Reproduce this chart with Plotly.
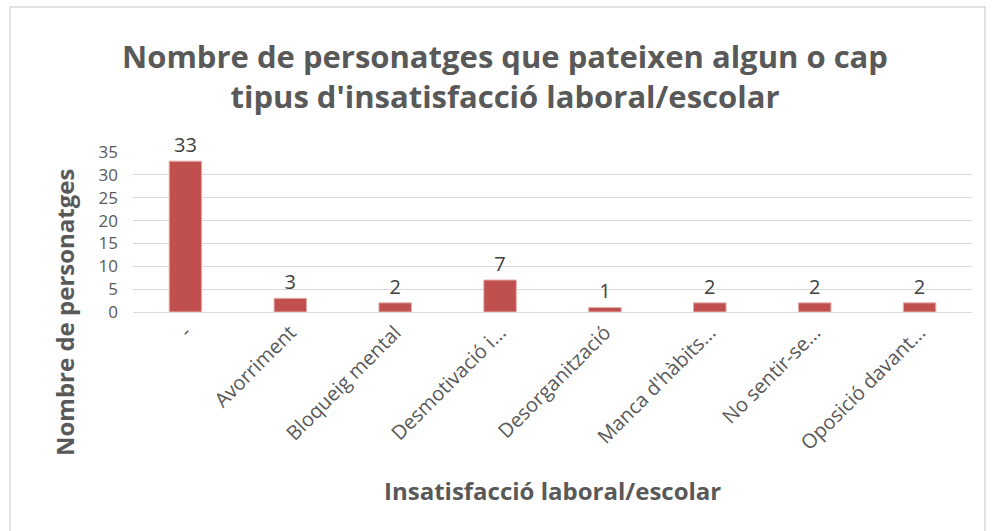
import plotly.graph_objects as go

categories = ["-", "Avorriment", "Bloqueig mental", "Desmotivació i...", "Desorganització",
              "Manca d'hàbits...", "No sentir-se...", "Oposició davant..."]
values = [33, 3, 2, 7, 1, 2, 2, 2]
y_ticks = [0, 5, 10, 15, 20, 25, 30, 35]

W, H = 992, 531
L, R, T, B = 133, 20, 152, 219
pw, ph = W - L - R, H - T - B

def px(x):
    return (x - L) / pw

def py(y):
    return (H - B - y) / ph

font = "Open Sans, sans-serif"
gray = "#595959"

fig = go.Figure(go.Bar(
    x=categories, y=values,
    marker=dict(color="#c0504d", line=dict(color="#e6b0b0", width=1)),
    text=[str(v) for v in values], textposition="outside",
    textfont=dict(size=20, color="#404040", family=font),
    cliponaxis=False,
    width=0.31,
))

fig.update_layout(
    width=W, height=H,
    margin=dict(l=L, r=R, t=T, b=B, autoexpand=False),
    paper_bgcolor="white", plot_bgcolor="white",
    showlegend=False,
    font=dict(family=font, color=gray),
    xaxis=dict(tickangle=-45, tickfont=dict(size=20, color=gray, family=font),
               showgrid=False, showline=True, linecolor="#d9d9d9", linewidth=1,
               ticks="", automargin=False, fixedrange=True),
    yaxis=dict(range=[0, 35], tickvals=y_ticks, tickfont=dict(size=17, color=gray, family=font),
               showgrid=True, gridcolor="#d9d9d9", gridwidth=1, zeroline=False,
               showline=False, ticks="", automargin=False, ticklabelstandoff=14),
    shapes=[dict(type="rect", xref="paper", yref="paper",
                 x0=px(10), x1=px(985), y0=py(540), y1=py(7),
                 line=dict(color="#d9d9d9", width=1.5), fillcolor="rgba(0,0,0,0)", layer="below")],
    annotations=[
        dict(text="<b>Nombre de personatges que pateixen algun o cap<br>tipus d'insatisfacció laboral/escolar</b>",
             xref="paper", yref="paper", x=px(505), y=py(76), xanchor="center", yanchor="middle",
             showarrow=False, font=dict(size=31, color=gray, family=font), align="center"),
        dict(text="<b>Nombre de personatges</b>", xref="paper", yref="paper",
             x=px(64), y=py(312), xanchor="center", yanchor="middle", textangle=-90, showarrow=False,
             font=dict(size=24, color=gray, family=font)),
        dict(text="<b>Insatisfacció laboral/escolar</b>", xref="paper", yref="paper",
             x=px(552), y=py(490), xanchor="center", yanchor="middle", showarrow=False,
             font=dict(size=24, color=gray, family=font)),
    ],
)

fig.write_html("out.html", config={"displayModeBar": False},
               post_script="document.body.style.margin='0';document.body.style.overflow='hidden';")
